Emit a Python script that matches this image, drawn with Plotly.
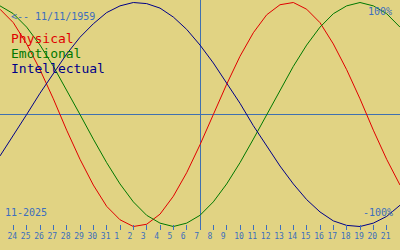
import plotly.graph_objects as go

# Day labels (Oct 23 .. Nov 22, 2025)
day_labels = ["23", "24", "25", "26", "27", "28", "29", "30", "31",
              "1", "2", "3", "4", "5", "6", "7", "8", "9", "10", "11", "12",
              "13", "14", "15", "16", "17", "18", "19", "20", "21", "22"]

# Biorhythm values in percent (one per day)
physical = [94, 82, 63, 40, 14, -14, -40, -63, -82, -94, -100, -98, -89, -73, -52, -27,
            0, 27, 52, 73, 89, 98, 100, 94, 82, 63, 40, 14, -14, -40, -63]
emotional = [97, 90, 78, 62, 43, 22, 0, -22, -43, -62, -78, -90, -97, -100, -97, -90,
             -78, -62, -43, -22, 0, 22, 43, 62, 78, 90, 97, 100, 97, 90, 78]
intellectual = [-37, -19, 0, 19, 37, 54, 69, 81, 91, 97, 100, 99, 95, 87, 76, 62,
                46, 28, 10, -10, -28, -46, -62, -76, -87, -95, -99, -100, -97, -91, -81]

series_names = ["Physical", "Emotional", "Intellectual"]
series_colors = ["#E00000", "#007800", "#000088"]
today_label = "7"
birth_text = "<-- 11/11/1959"
month_text = "11-2025"

BG = "#E1D383"
BLUE = "#3C6EBE"
AXBLUE = "#4070B0"
MONO = "DejaVu Sans Mono"

x = list(range(len(day_labels)))
today_idx = day_labels.index(today_label, 9)
px_per_day = 400.0 / (len(day_labels) - 1)

fig = go.Figure()
for name, vals, col in zip(series_names, [physical, emotional, intellectual], series_colors):
    fig.add_trace(go.Scatter(x=x, y=vals, mode="lines", name=name,
                             line=dict(color=col, width=1), showlegend=False,
                             hoverinfo="skip"))

tick_idx = x[1:-1]
ticktext = [day_labels[i] if len(day_labels[i]) > 1 else day_labels[i] + "\u00a0" for i in tick_idx]

H = 230.0
def py(px):
    return 1 - px / H

fig.update_layout(
    width=400, height=250,
    margin=dict(l=0, r=0, t=0, b=20, pad=0),
    paper_bgcolor=BG, plot_bgcolor=BG,
    xaxis=dict(range=[0, len(day_labels) - 1], tickvals=tick_idx, ticktext=ticktext,
               ticks="inside", ticklen=5, tickwidth=1, tickcolor=BLUE,
               showgrid=False, zeroline=False, showline=False,
               tickfont=dict(family=MONO, size=8, color=BLUE),
               ticklabelshift=-1, ticklabelstandoff=0, fixedrange=True),
    yaxis=dict(range=[-103.125, 102.23], visible=False, showgrid=False,
               zeroline=False, fixedrange=True),
    shapes=[
        dict(type="line", xref="paper", x0=0, x1=1, yref="y", y0=0, y1=0,
             line=dict(color=AXBLUE, width=1), layer="below"),
        dict(type="line", xref="x", x0=today_idx + 0.5 / px_per_day, x1=today_idx + 0.5 / px_per_day,
             yref="paper", y0=0, y1=1,
             line=dict(color=AXBLUE, width=1), layer="below"),
    ],
    annotations=[
        dict(text=birth_text.replace("<", "&lt;"), xref="paper", yref="paper", x=9 / 400, y=py(16.5),
             xanchor="left", yanchor="middle", showarrow=False,
             font=dict(family=MONO, size=10, color=BLUE)),
        dict(text=series_names[0], xref="paper", yref="paper", x=9 / 400, y=py(38.5),
             xanchor="left", yanchor="middle", showarrow=False,
             font=dict(family=MONO, size=13, color=series_colors[0])),
        dict(text=series_names[1], xref="paper", yref="paper", x=9 / 400, y=py(53.5),
             xanchor="left", yanchor="middle", showarrow=False,
             font=dict(family=MONO, size=13, color=series_colors[1])),
        dict(text=series_names[2], xref="paper", yref="paper", x=9 / 400, y=py(68.5),
             xanchor="left", yanchor="middle", showarrow=False,
             font=dict(family=MONO, size=13, color=series_colors[2])),
        dict(text="100%", xref="paper", yref="paper", x=394 / 400, y=py(11.5),
             xanchor="right", yanchor="middle", showarrow=False,
             font=dict(family=MONO, size=10, color=BLUE)),
        dict(text="-100%", xref="paper", yref="paper", x=395 / 400, y=py(212.5),
             xanchor="right", yanchor="middle", showarrow=False,
             font=dict(family=MONO, size=10, color=BLUE)),
        dict(text=month_text, xref="paper", yref="paper", x=3 / 400, y=py(212.5),
             xanchor="left", yanchor="middle", showarrow=False,
             font=dict(family=MONO, size=10, color=BLUE)),
    ],
)

fig.write_html("out.html", config=dict(displayModeBar=False, staticPlot=True))
